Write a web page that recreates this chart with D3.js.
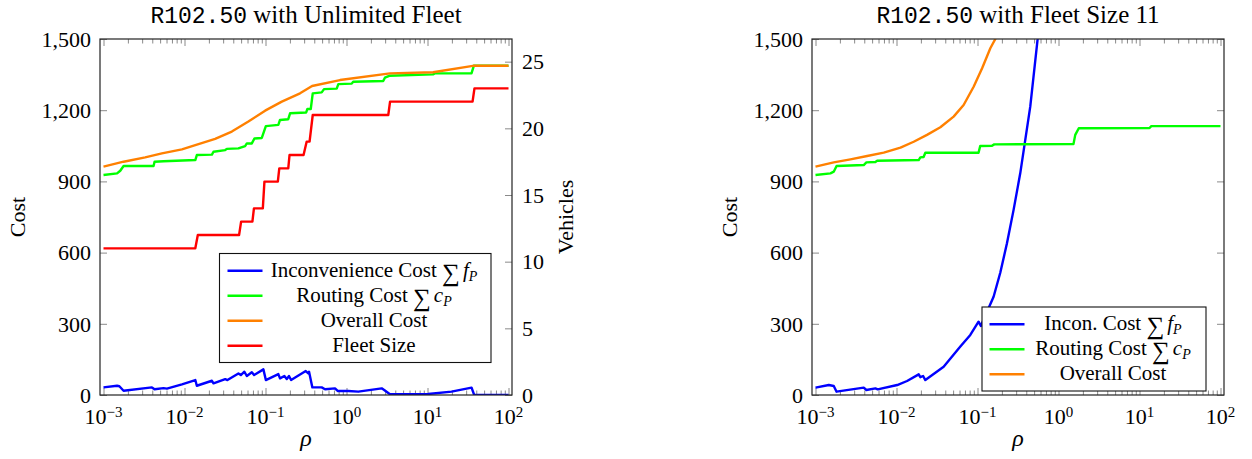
<!DOCTYPE html>
<html>
<head>
<meta charset="utf-8">
<script src="https://cdn.jsdelivr.net/npm/d3@7"></script>
<style>
body { margin: 0; background: #fff; }
svg { display: block; }
</style>
</head>
<body>
<div id="chart"></div>
<script>
// tick values
var rhoTicks = [1e-3, 1e-2, 1e-1, 1, 10, 100];
var costTicks = [0, 300, 600, 900, 1200, 1500];
var vehicleTicks = [0, 5, 10, 15, 20, 25];

// left panel: R102.50 with unlimited fleet  ([rho, value])
var unlimitedIncon = [
    [0.001, 32], [0.00147, 39], [0.00157, 37], [0.00177, 18], [0.00396, 32], [0.00427, 24],
    [0.00551, 29], [0.00607, 27], [0.0093, 45], [0.0136, 63], [0.0142, 39], [0.0218, 60],
    [0.0228, 49], [0.0318, 67], [0.0339, 63], [0.0463, 91], [0.0496, 84], [0.0549, 98],
    [0.0588, 80], [0.0678, 96], [0.0723, 84], [0.0942, 108], [0.101, 63], [0.144, 88],
    [0.151, 70], [0.171, 80], [0.183, 67], [0.195, 80], [0.207, 63], [0.314, 101],
    [0.338, 91], [0.345, 98], [0.379, 32], [0.494, 32], [0.543, 24], [0.721, 28],
    [0.778, 17], [1.05, 17], [1.40, 14], [2.72, 28], [2.92, 21], [3.44, 3], [10.2, 4],
    [19.8, 14], [35.0, 31], [37.7, 0], [100, 0]
];
var unlimitedRouting = [
    [0.001, 927], [0.00147, 934], [0.00161, 945], [0.00177, 965], [0.00415, 965], [0.00427, 983],
    [0.00551, 985], [0.0136, 990], [0.0142, 1011], [0.0218, 1013], [0.0228, 1025], [0.0318, 1032],
    [0.0333, 1037], [0.0463, 1039], [0.0560, 1049], [0.0588, 1060], [0.0678, 1060], [0.0730, 1081],
    [0.0900, 1083], [0.101, 1133], [0.144, 1138], [0.151, 1159], [0.191, 1162], [0.201, 1187],
    [0.317, 1190], [0.329, 1205], [0.362, 1205], [0.383, 1271], [0.494, 1275], [0.528, 1289],
    [0.757, 1291], [0.793, 1310], [1.16, 1312], [1.21, 1320], [2.84, 1323], [2.98, 1337],
    [3.37, 1345], [11.7, 1351], [12.3, 1355], [35.0, 1356], [37.3, 1387], [100, 1387]
];
var unlimitedOverall = [
    [0.001, 962], [0.00177, 983], [0.00327, 1001], [0.00526, 1018], [0.00929, 1035], [0.0136, 1053],
    [0.0239, 1079], [0.0384, 1110], [0.0615, 1152], [0.0989, 1198], [0.159, 1236], [0.267, 1271],
    [0.376, 1302], [0.832, 1327], [3.44, 1355], [11.7, 1360], [36.3, 1387], [100, 1387]
];
var unlimitedFleet = [
    [0.001, 11], [0.0136, 11], [0.0146, 12], [0.0472, 12], [0.050, 13], [0.0689, 13], [0.072, 14],
    [0.0927, 14], [0.097, 16], [0.142, 16], [0.148, 17], [0.191, 17], [0.198, 18], [0.295, 18],
    [0.322, 19], [0.350, 19], [0.383, 21], [3.28, 21], [3.45, 22], [36.0, 22], [38.0, 23], [100, 23]
];

// right panel: R102.50 with fleet size 11
var fleet11Incon = [
    [0.001, 31], [0.00146, 42], [0.00168, 38], [0.00182, 14], [0.00394, 31], [0.00425, 21],
    [0.00549, 28], [0.00586, 24], [0.0102, 42], [0.0135, 59], [0.0188, 87], [0.0197, 75],
    [0.0213, 80], [0.0227, 63], [0.0382, 119], [0.0614, 204], [0.0815, 253], [0.103, 309],
    [0.110, 291], [0.131, 351], [0.158, 414], [0.191, 515], [0.231, 639], [0.279, 780],
    [0.337, 934], [0.448, 1215], [0.551, 1496], [0.63, 1750]
];
var fleet11Routing = [
    [0.001, 927], [0.00153, 934], [0.00168, 941], [0.00182, 965], [0.00394, 969], [0.00425, 980],
    [0.00549, 982], [0.00577, 987], [0.0188, 990], [0.0197, 1001], [0.0216, 1003], [0.0227, 1021],
    [0.103, 1021], [0.108, 1049], [0.151, 1050], [0.161, 1056], [1.53, 1057], [1.61, 1096],
    [1.78, 1124], [13.3, 1125], [14.0, 1133], [100, 1133]
];
var fleet11Overall = [
    [0.001, 962], [0.00168, 980], [0.0027, 993], [0.00434, 1007], [0.00696, 1021], [0.0112, 1042],
    [0.0163, 1067], [0.0238, 1096], [0.0348, 1128], [0.0507, 1173], [0.0674, 1222], [0.0896, 1299],
    [0.114, 1377], [0.144, 1461], [0.166, 1500], [0.191, 1560]
];

var unlimitedLabels = ["Inconvenience Cost ∑f_P", "Routing Cost ∑c_P", "Overall Cost", "Fleet Size"];
var fleet11Labels = ["Incon. Cost ∑f_P", "Routing Cost ∑c_P", "Overall Cost"];

var colBlue = "#0000ff", colGreen = "#00ff00", colOrange = "#ff8000", colRed = "#ff0000";
var serif = "'Liberation Serif', 'DejaVu Serif', 'Times New Roman', serif";

var svg = d3.select("#chart").append("svg")
    .attr("width", 1252)
    .attr("height", 459)
    .attr("font-family", serif);

var boxTop = 39, boxBottom = 395, boxWidth = 412;
var tickGray = "#8a8a8a";

function mathLabel(textSel, label) {
    var parts = label.split("∑");
    textSel.append("tspan").text(parts[0]);
    if (parts.length > 1) {
        var sym = parts[1].split("_");
        textSel.append("tspan").attr("font-size", 25).attr("dy", 4).text("∑");
        textSel.append("tspan").attr("font-style", "italic").attr("dx", 3).attr("dy", -4).text(sym[0]);
        textSel.append("tspan").attr("font-style", "italic").attr("font-size", 14).attr("dy", 4).text(sym[1]);
    }
}

function drawPanel(o) {
    var x0 = o.left, x1 = o.left + boxWidth;
    var g = svg.append("g");

    var x = d3.scaleLog().domain([1e-3, 1e2]).range([x0 + 3.5, x1 - 3.5]);
    var y = d3.scaleLinear().domain([0, 1500]).range([boxBottom, boxTop]);

    var clipId = "clip" + o.id;
    svg.append("clipPath").attr("id", clipId).append("rect")
        .attr("x", x0).attr("y", boxTop).attr("width", boxWidth).attr("height", boxBottom - boxTop);

    // minor x ticks
    var minors = [];
    for (var k = -3; k < 2; k++) {
        for (var m = 2; m <= 9; m++) minors.push(m * Math.pow(10, k));
    }
    [[d3.axisBottom, boxBottom], [d3.axisTop, boxTop]].forEach(function (a) {
        g.append("g").attr("transform", "translate(0," + a[1] + ")")
            .call(a[0](x).tickValues(minors).tickSize(-4.5).tickFormat(""))
            .call(function (s) { s.select(".domain").remove(); });
        g.append("g").attr("transform", "translate(0," + a[1] + ")")
            .call(a[0](x).tickValues(rhoTicks).tickSize(-7).tickFormat(""))
            .call(function (s) { s.select(".domain").remove(); });
    });

    // y axes
    var yl = g.append("g").attr("transform", "translate(" + x0 + ",0)")
        .call(d3.axisLeft(y).tickValues(costTicks).tickSize(-7).tickPadding(9).tickFormat(d3.format(",")));
    yl.select(".domain").remove();
    yl.attr("font-family", serif).attr("font-size", 22);
    yl.selectAll("text").attr("fill", "#000").attr("dy", "0.33em");

    if (o.vehicles) {
        var yv = d3.scaleLinear().domain([0, 26.7]).range([boxBottom, boxTop]);
        var yr = g.append("g").attr("transform", "translate(" + x1 + ",0)")
            .call(d3.axisRight(yv).tickValues(vehicleTicks).tickSize(-7).tickPadding(10));
        yr.select(".domain").remove();
        yr.attr("font-family", serif).attr("font-size", 22);
        yr.selectAll("text").attr("fill", "#000").attr("dy", "0.33em");
    } else {
        var yr2 = g.append("g").attr("transform", "translate(" + x1 + ",0)")
            .call(d3.axisRight(y).tickValues(costTicks).tickSize(-7).tickFormat(""));
        yr2.select(".domain").remove();
    }
    g.selectAll(".tick line").attr("stroke", tickGray).attr("stroke-width", 1);

    // x tick labels 10^k
    var xl = g.append("g").selectAll("text").data(rhoTicks).join("text")
        .attr("x", function (d) { return x(d); })
        .attr("y", 424)
        .attr("text-anchor", "middle")
        .attr("font-size", 22);
    xl.append("tspan").text("10");
    xl.append("tspan").attr("font-size", 15).attr("dy", -7)
        .text(function (d) { var e = Math.round(Math.log10(d)); return e < 0 ? "\u2212" + (-e) : "" + e; });

    // series
    var plot = g.append("g").attr("clip-path", "url(#" + clipId + ")");
    var lineCost = d3.line().x(function (d) { return x(d[0]); }).y(function (d) { return y(d[1]); });
    o.series.forEach(function (s) {
        plot.append("path").datum(s.data)
            .attr("fill", "none").attr("stroke", s.color).attr("stroke-width", 2.4)
            .attr("stroke-linejoin", "round")
            .attr("d", lineCost);
    });
    if (o.vehicles) {
        var lineVeh = d3.line().x(function (d) { return x(d[0]); }).y(function (d) { return yv(d[1]); });
        plot.append("path").datum(o.vehicles.data)
            .attr("fill", "none").attr("stroke", o.vehicles.color).attr("stroke-width", 2.4)
            .attr("stroke-linejoin", "round")
            .attr("d", lineVeh);
    }

    // frame
    g.append("rect").attr("x", x0).attr("y", boxTop).attr("width", boxWidth).attr("height", boxBottom - boxTop)
        .attr("fill", "none").attr("stroke", "#222").attr("stroke-width", 1.2);

    // legend
    var L = o.legend;
    g.append("rect").attr("x", L.x).attr("y", L.y).attr("width", L.w).attr("height", L.h)
        .attr("fill", "#fff").attr("stroke", "#111").attr("stroke-width", 1.1);
    L.labels.forEach(function (lab, i) {
        var ry = L.rowY + i * L.step;
        g.append("line").attr("x1", L.lineX).attr("x2", L.lineX + 35).attr("y1", ry).attr("y2", ry)
            .attr("stroke", L.colors[i]).attr("stroke-width", 2.4);
        var t = g.append("text").attr("x", L.textX).attr("y", ry + 6)
            .attr("text-anchor", "middle").attr("font-size", 21);
        mathLabel(t, lab);
    });

    // titles and axis labels
    var title = g.append("text").attr("x", (x0 + x1) / 2).attr("y", 23)
        .attr("text-anchor", "middle").attr("font-size", 25);
    title.append("tspan").attr("font-family", "'Liberation Mono', 'DejaVu Sans Mono', monospace").attr("font-size", 23).text("R102.50");
    title.append("tspan").text(" " + o.title);

    g.append("text").attr("transform", "translate(" + (x0 - 75) + "," + ((boxTop + boxBottom) / 2) + ") rotate(-90)")
        .attr("text-anchor", "middle").attr("font-size", 22).text("Cost");
    g.append("text").attr("x", (x0 + x1) / 2).attr("y", 446)
        .attr("text-anchor", "middle").attr("font-size", 24).attr("font-style", "italic").text("ρ");
    if (o.vehicles) {
        g.append("text").attr("transform", "translate(" + (x1 + 61) + "," + ((boxTop + boxBottom) / 2) + ") rotate(-90)")
            .attr("text-anchor", "middle").attr("font-size", 22).text("Vehicles");
    }
}

drawPanel({
    id: "a",
    left: 100,
    title: "with Unlimited Fleet",
    series: [
        { data: unlimitedIncon, color: colBlue },
        { data: unlimitedRouting, color: colGreen },
        { data: unlimitedOverall, color: colOrange }
    ],
    vehicles: { data: unlimitedFleet, color: colRed },
    legend: {
        x: 219.5, y: 253.5, w: 271.5, h: 109, rowY: 270.7, step: 25,
        lineX: 227.5, textX: 374, labels: unlimitedLabels,
        colors: [colBlue, colGreen, colOrange, colRed]
    }
});

drawPanel({
    id: "b",
    left: 812,
    title: "with Fleet Size 11",
    series: [
        { data: fleet11Incon, color: colBlue },
        { data: fleet11Routing, color: colGreen },
        { data: fleet11Overall, color: colOrange }
    ],
    vehicles: null,
    legend: {
        x: 982, y: 307, w: 224, h: 84, rowY: 324.3, step: 25,
        lineX: 989.5, textX: 1113, labels: fleet11Labels,
        colors: [colBlue, colGreen, colOrange]
    }
});
</script>
</body>
</html>
